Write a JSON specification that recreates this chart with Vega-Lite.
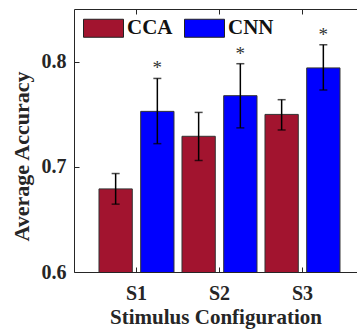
{
  "$schema": "https://vega.github.io/schema/vega-lite/v6.json",
  "width": 283,
  "height": 263,
  "autosize": {"type": "none"},
  "padding": {"left": 74, "top": 9, "right": 0, "bottom": 58},
  "background": "white",
  "config": {
    "view": {"stroke": null},
    "axis": {
      "domainColor": "#262626",
      "domainWidth": 1,
      "tickColor": "#262626",
      "tickWidth": 1,
      "labelFont": "Liberation Serif",
      "labelFontWeight": "bold",
      "labelFontSize": 20,
      "labelColor": "#262626",
      "titleFont": "Liberation Serif",
      "titleFontWeight": "bold",
      "titleFontSize": 21,
      "titleColor": "#262626",
      "grid": false
    }
  },
  "data": {
    "values": [
      {"config": "S1", "method": "CCA", "acc": 0.679, "lo": 0.6645, "hi": 0.6936, "star": ""},
      {"config": "S1", "method": "CNN", "acc": 0.7527, "lo": 0.722, "hi": 0.784, "star": "*"},
      {"config": "S2", "method": "CCA", "acc": 0.729, "lo": 0.706, "hi": 0.7517, "star": ""},
      {"config": "S2", "method": "CNN", "acc": 0.7676, "lo": 0.737, "hi": 0.798, "star": "*"},
      {"config": "S3", "method": "CCA", "acc": 0.7498, "lo": 0.735, "hi": 0.7638, "star": ""},
      {"config": "S3", "method": "CNN", "acc": 0.794, "lo": 0.773, "hi": 0.816, "star": "*"}
    ]
  },
  "resolve": {"axis": {"x": "independent"}},
  "layer": [
    {
      "mark": {"type": "bar", "stroke": "#333333", "strokeWidth": 1, "clip": true},
      "encoding": {
        "x": {
          "field": "config", "type": "nominal",
          "scale": {"paddingInner": 0.0964, "paddingOuter": 0.253, "align": 0.595},
          "axis": {"orient": "bottom", "title": "Stimulus Configuration", "labelAngle": 0, "tickSize": -5, "labelPadding": 16, "titlePadding": 3}
        },
        "xOffset": {"field": "method", "type": "nominal", "scale": {"paddingInner": 0.2014, "paddingOuter": 0}},
        "y": {
          "field": "acc", "type": "quantitative",
          "scale": {"domain": [0.6, 0.85], "zero": false, "nice": false},
          "axis": {"title": "Average Accuracy", "titleFontSize": 22, "titleY": 147, "values": [0.6, 0.7, 0.8], "format": ".1f", "tickSize": -5, "labelPadding": 13, "titlePadding": 8}
        },
        "color": {
          "field": "method", "type": "nominal",
          "scale": {"domain": ["CCA", "CNN"], "range": ["#A2142F", "#0000FF"]},
          "legend": {
            "orient": "none", "legendX": 9, "legendY": -1.5, "direction": "horizontal",
            "title": null, "padding": 0,
            "symbolType": "M-1,-0.45H1V0.45H-1Z", "symbolSize": 1600,
            "symbolStrokeColor": "#222222", "symbolStrokeWidth": 1, "symbolOpacity": 1,
            "labelFont": "Liberation Serif", "labelFontWeight": "bold", "labelFontSize": 21,
            "labelColor": "#111111", "labelOffset": 3, "columnPadding": 9
          }
        }
      }
    },
    {
      "mark": {"type": "rule", "color": "black", "strokeWidth": 1.5},
      "encoding": {
        "x": {"field": "config", "type": "nominal", "axis": {"orient": "top", "title": null, "labels": false, "tickSize": -5}},
        "xOffset": {"field": "method", "type": "nominal"},
        "y": {"field": "lo", "type": "quantitative"},
        "y2": {"field": "hi"}
      }
    },
    {
      "mark": {"type": "tick", "color": "black", "thickness": 1.5, "size": 8},
      "encoding": {
        "x": {"field": "config", "type": "nominal", "axis": null},
        "xOffset": {"field": "method", "type": "nominal"},
        "y": {"field": "lo", "type": "quantitative"}
      }
    },
    {
      "mark": {"type": "tick", "color": "black", "thickness": 1.5, "size": 8},
      "encoding": {
        "x": {"field": "config", "type": "nominal", "axis": null},
        "xOffset": {"field": "method", "type": "nominal"},
        "y": {"field": "hi", "type": "quantitative"}
      }
    },
    {
      "mark": {"type": "text", "font": "Liberation Serif", "fontSize": 19, "color": "#333333", "baseline": "middle", "dy": -10},
      "encoding": {
        "x": {"field": "config", "type": "nominal", "axis": null},
        "xOffset": {"field": "method", "type": "nominal"},
        "y": {"field": "hi", "type": "quantitative"},
        "text": {"field": "star"}
      }
    }
  ]
}
